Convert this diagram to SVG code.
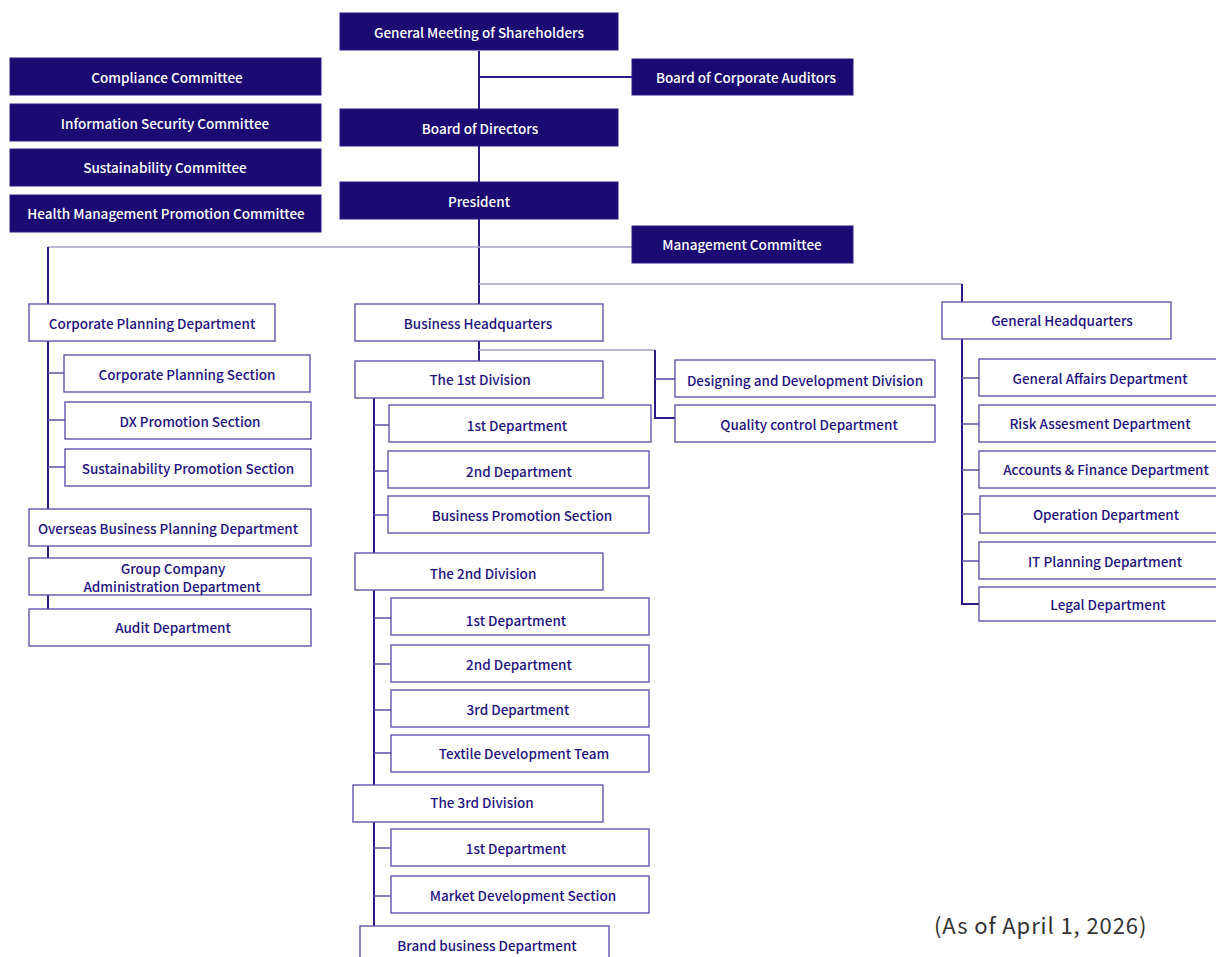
<svg xmlns="http://www.w3.org/2000/svg" width="1216" height="957" viewBox="0 0 1216 957">
<style>
text{font-family:"Noto Sans CJK JP","Noto Sans CJK SC","Liberation Sans",sans-serif;font-size:13.5px;font-weight:500;text-anchor:middle;dominant-baseline:central}
.f rect{fill:#1a0a72;stroke:#2a1d86;stroke-width:1}
.f text{fill:#ffffff}
.w rect{fill:#ffffff;stroke:#554aa6;stroke-width:1.3}
.w text{fill:#1f1382}
.dk{stroke:#2b1b87;stroke-width:2;fill:none}
.md{stroke:#5c52a6;stroke-width:1.6;fill:none}
.lt{stroke:#a5a1cc;stroke-width:1.6;fill:none}
text.note{font-size:22px;font-weight:400;fill:#333333;text-anchor:start;letter-spacing:0.9px}
</style>
<rect width="1216" height="957" fill="#ffffff"/>
<g id="connectors">
<path class="dk" d="M479 51V110M479 146V183M479 219V304M479 341V361"/>
<path class="dk" d="M479 77H632"/>
<path class="lt" d="M48 247H632"/>
<path class="dk" d="M48 247V304M48 341V509M48 546V558M48 595V609"/>
<path class="md" d="M48 373H64M48 420H65M48 467H65"/>
<path class="lt" d="M479 284H962"/>
<path class="dk" d="M962 284V302M962 339V604H980"/>
<path class="md" d="M962 378H980M962 424H980M962 470H980M962 514H980M962 561H980"/>
<path class="lt" d="M479 350H655"/>
<path class="dk" d="M655 350V418H675"/>
<path class="md" d="M655 379H675"/>
<path class="dk" d="M374 398V553M374 590V785M374 822V926"/>
<path class="md" d="M374 425H389M374 471H388M374 515H388M374 618H391M374 664H391M374 710H391M374 753H391M374 848H391M374 896H391"/>
</g>
<g id="n-gms" class="f"><rect x="340" y="13" width="278" height="37"/><text x="479" y="32">General Meeting of Shareholders</text></g>
<g id="n-auditors" class="f"><rect x="632" y="59" width="221" height="36"/><text x="746" y="77">Board of Corporate Auditors</text></g>
<g id="n-bod" class="f"><rect x="340" y="109" width="278" height="37"/><text x="480" y="128">Board of Directors</text></g>
<g id="n-president" class="f"><rect x="340" y="182" width="278" height="37"/><text x="479" y="201">President</text></g>
<g id="n-mgmt" class="f"><rect x="632" y="226" width="221" height="37"/><text x="742" y="244">Management Committee</text></g>
<g id="n-compliance" class="f"><rect x="10" y="58" width="311" height="37"/><text x="167" y="77">Compliance Committee</text></g>
<g id="n-infosec" class="f"><rect x="10" y="104" width="311" height="37"/><text x="165" y="123">Information Security Committee</text></g>
<g id="n-sustain" class="f"><rect x="10" y="149" width="311" height="37"/><text x="165" y="167">Sustainability Committee</text></g>
<g id="n-health" class="f"><rect x="10" y="195" width="311" height="37"/><text x="166" y="213">Health Management Promotion Committee</text></g>
<g id="n-cpd" class="w"><rect x="29" y="304" width="246" height="37"/><text x="152" y="323">Corporate Planning Department</text></g>
<g id="n-cps" class="w"><rect x="64" y="355" width="246" height="37"/><text x="187" y="374">Corporate Planning Section</text></g>
<g id="n-dx" class="w"><rect x="65" y="402" width="246" height="37"/><text x="190" y="421">DX Promotion Section</text></g>
<g id="n-sps" class="w"><rect x="65" y="449" width="246" height="37"/><text x="188" y="468">Sustainability Promotion Section</text></g>
<g id="n-obpd" class="w"><rect x="29" y="509" width="282" height="37"/><text x="168" y="528">Overseas Business Planning Department</text></g>
<g id="n-gcad" class="w"><rect x="29" y="558" width="282" height="37"/><text x="173" y="567.5">Group Company</text><text x="172" y="585.5">Administration Department</text></g>
<g id="n-audit" class="w"><rect x="29" y="609" width="282" height="37"/><text x="173" y="627">Audit Department</text></g>
<g id="n-bhq" class="w"><rect x="355" y="304" width="248" height="37"/><text x="478" y="323">Business Headquarters</text></g>
<g id="n-div1" class="w"><rect x="355" y="361" width="248" height="37"/><text x="480" y="379">The 1st Division</text></g>
<g id="n-ddd" class="w"><rect x="675" y="360" width="260" height="37"/><text x="805" y="380">Designing and Development Division</text></g>
<g id="n-qcd" class="w"><rect x="675" y="405" width="260" height="37"/><text x="809" y="424">Quality control Department</text></g>
<g id="n-d1-1" class="w"><rect x="389" y="405" width="262" height="37"/><text x="517" y="425">1st Department</text></g>
<g id="n-d1-2" class="w"><rect x="388" y="451" width="261" height="37"/><text x="519" y="471">2nd Department</text></g>
<g id="n-d1-bps" class="w"><rect x="388" y="496" width="261" height="37"/><text x="522" y="515">Business Promotion Section</text></g>
<g id="n-div2" class="w"><rect x="355" y="553" width="248" height="37"/><text x="483" y="573">The 2nd Division</text></g>
<g id="n-d2-1" class="w"><rect x="391" y="598" width="258" height="37"/><text x="516" y="620">1st Department</text></g>
<g id="n-d2-2" class="w"><rect x="391" y="645" width="258" height="37"/><text x="519" y="664">2nd Department</text></g>
<g id="n-d2-3" class="w"><rect x="391" y="690" width="258" height="37"/><text x="518" y="709">3rd Department</text></g>
<g id="n-d2-tdt" class="w"><rect x="391" y="735" width="258" height="37"/><text x="524" y="753">Textile Development Team</text></g>
<g id="n-div3" class="w"><rect x="353" y="785" width="250" height="37"/><text x="482" y="802">The 3rd Division</text></g>
<g id="n-d3-1" class="w"><rect x="391" y="829" width="258" height="37"/><text x="516" y="848">1st Department</text></g>
<g id="n-d3-mds" class="w"><rect x="391" y="876" width="258" height="37"/><text x="523" y="895">Market Development Section</text></g>
<g id="n-brand" class="w"><rect x="360" y="926" width="249" height="40"/><text x="487" y="945">Brand business Department</text></g>
<g id="n-ghq" class="w"><rect x="942" y="302" width="229" height="37"/><text x="1062" y="320">General Headquarters</text></g>
<g id="n-gad" class="w"><rect x="979" y="359" width="256" height="37"/><text x="1100" y="378">General Affairs Department</text></g>
<g id="n-rad" class="w"><rect x="979" y="405" width="256" height="37"/><text x="1100" y="423">Risk Assesment Department</text></g>
<g id="n-afd" class="w"><rect x="979" y="451" width="256" height="37"/><text x="1106" y="469">Accounts &amp; Finance Department</text></g>
<g id="n-opd" class="w"><rect x="980" y="496" width="256" height="37"/><text x="1106" y="514">Operation Department</text></g>
<g id="n-itpd" class="w"><rect x="979" y="542" width="256" height="37"/><text x="1105" y="561">IT Planning Department</text></g>
<g id="n-legal" class="w"><rect x="979" y="587" width="256" height="34"/><text x="1108" y="604">Legal Department</text></g>
<text class="note" x="934" y="924">(As of April 1, 2026)</text>
</svg>
